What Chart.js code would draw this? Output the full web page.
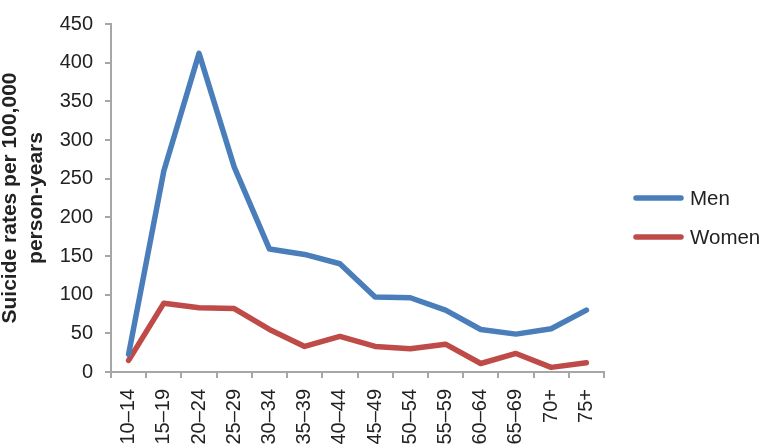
<!DOCTYPE html>
<html lang="en">
<head>
    <meta charset="UTF-8">
    <title>Suicide rates by age</title>
    <script src="https://cdn.jsdelivr.net/npm/chart.js"></script>
    <style>
        html, body { margin: 0; padding: 0; background: #fff; }
        #wrap { width: 761px; height: 448px; }
    </style>
</head>
<body>
    <div id="wrap"><canvas id="chart" width="761" height="448"></canvas></div>

    <script>
        var ageGroups = ['10\u201314', '15\u201319', '20\u201324', '25\u201329', '30\u201334', '35\u201339', '40\u201344',
                         '45\u201349', '50\u201354', '55\u201359', '60\u201364', '65\u201369', '70+', '75+'];
        var menRates = [23, 260, 412, 265, 159, 152, 140, 97, 96, 80, 55, 49, 56, 80];
        var womenRates = [15, 89, 83, 82, 55, 33, 46, 33, 30, 36, 11, 24, 6, 12];
        var yTicks = [0, 50, 100, 150, 200, 250, 300, 350, 400, 450];

        var axisGray = '#a6a6a6';
        var textColor = '#222';
        var fontFamily = '"Liberation Sans", Arial, sans-serif';

        // legend drawn by hand so it sits where the original one is
        var sideLegend = {
            id: 'sideLegend',
            afterDraw: function(chart) {
                var c = chart.ctx;
                var rows = [198, 237];
                chart.data.datasets.forEach(function(ds, i) {
                    c.save();
                    c.strokeStyle = ds.borderColor;
                    c.lineWidth = 5.5;
                    c.lineCap = 'round';
                    c.beginPath();
                    c.moveTo(636, rows[i]);
                    c.lineTo(681, rows[i]);
                    c.stroke();
                    c.fillStyle = textColor;
                    c.font = '20.5px ' + fontFamily;
                    c.textBaseline = 'middle';
                    c.fillText(ds.label, 690, rows[i] + 1);
                    c.restore();
                });
            }
        };

        var ctx = document.getElementById('chart').getContext('2d');
        var chart = new Chart(ctx, {
            type: 'line',
            data: {
                labels: ageGroups,
                datasets: [{
                    label: 'Men',
                    data: menRates,
                    borderColor: '#4a7ebb',
                    borderWidth: 5.5,
                    pointRadius: 0,
                    tension: 0,
                    borderJoinStyle: 'round',
                    borderCapStyle: 'round'
                }, {
                    label: 'Women',
                    data: womenRates,
                    borderColor: '#be4b48',
                    borderWidth: 5.5,
                    pointRadius: 0,
                    tension: 0,
                    borderJoinStyle: 'round',
                    borderCapStyle: 'round'
                }]
            },
            options: {
                responsive: false,
                maintainAspectRatio: false,
                animation: false,
                layout: { padding: { top: 8, right: 157, left: 0, bottom: 0 } },
                plugins: {
                    legend: { display: false },
                    tooltip: { enabled: false }
                },
                scales: {
                    x: {
                        offset: true,
                        grid: {
                            offset: true,
                            drawOnChartArea: false,
                            drawTicks: true,
                            tickLength: 6,
                            color: axisGray,
                            lineWidth: 2
                        },
                        border: { color: axisGray, width: 2 },
                        ticks: {
                            minRotation: 90,
                            maxRotation: 90,
                            autoSkip: false,
                            padding: 11,
                            color: textColor,
                            font: { family: fontFamily, size: 20 }
                        },
                        afterFit: function(scale) { scale.height = 76; }
                    },
                    y: {
                        min: 0,
                        max: 450,
                        afterBuildTicks: function(scale) {
                            scale.ticks = yTicks.map(function(v) { return { value: v }; });
                        },
                        grid: {
                            drawOnChartArea: false,
                            drawTicks: true,
                            tickLength: 6,
                            color: axisGray,
                            lineWidth: 2
                        },
                        border: { color: axisGray, width: 2 },
                        ticks: {
                            padding: 12,
                            color: textColor,
                            font: { family: fontFamily, size: 20 }
                        },
                        title: {
                            display: true,
                            text: ['Suicide rates per 100,000', 'person-years'],
                            color: textColor,
                            padding: { top: -3, bottom: 0 },
                            font: { family: fontFamily, size: 21, weight: 'bold', lineHeight: '26px' }
                        },
                        afterFit: function(scale) { scale.width = 111; }
                    }
                }
            },
            plugins: [sideLegend]
        });
    </script>
</body>
</html>
